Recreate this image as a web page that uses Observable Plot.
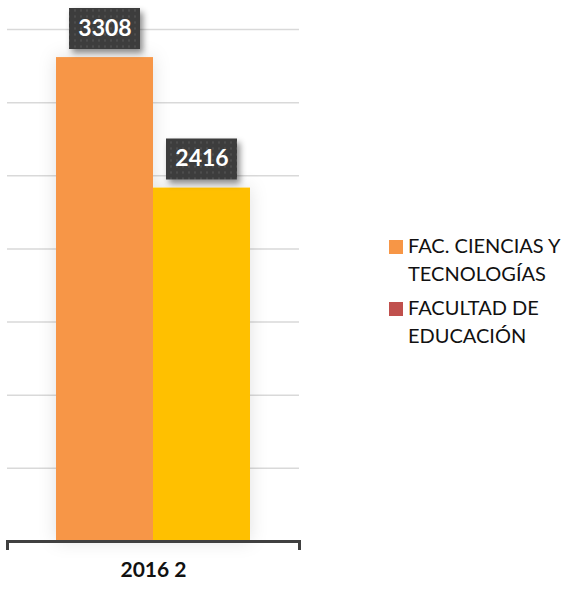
<!DOCTYPE html>
<html>
<head>
<meta charset="utf-8">
<script src="https://cdn.jsdelivr.net/npm/d3@7"></script>
<script src="https://cdn.jsdelivr.net/npm/@observablehq/plot@0.6"></script>
<style>
  body { margin: 0; background: #fff; }
  #wrap { position: relative; width: 576px; height: 591px; font-family: Lato, "Open Sans", sans-serif; }
  #legend { position: absolute; left: 389px; top: 231px; }
  .item { display: flex; align-items: flex-start; margin-bottom: 6px; }
  .sw { width: 14px; height: 14px; margin-top: 9px; margin-right: 5px; flex: none; }
  .lab { font-size: 20px; line-height: 28px; color: #111; width: 175px; }
</style>
</head>
<body>
<div id="wrap"></div>
<script>
const series = ["FAC. CIENCIAS Y TECNOLOGÍAS", "FACULTAD DE EDUCACIÓN"];
const values = [3308, 2416];
const period = "2016 2";
const barColors = ["#F79646", "#FFC000"];
const legendColors = ["#F79646", "#C0504D"];
const yTicks = [500, 1000, 1500, 2000, 2500, 3000, 3500];

const data = series.map((s, i) => ({series: s, value: values[i], period}));

const plot = Plot.plot({
  width: 576,
  height: 591,
  marginLeft: 7,
  marginRight: 277,
  marginTop: 29,
  marginBottom: 50,
  style: {fontFamily: "Lato, 'Open Sans', sans-serif", background: "transparent"},
  fx: {domain: [period], padding: 0, label: null},
  x: {domain: series, paddingInner: 0, paddingOuter: 0.5, axis: null},
  y: {domain: [0, 3500], axis: null},
  color: {domain: series, range: barColors},
  marks: [
    Plot.ruleY(yTicks, {stroke: "#d9d9d9", strokeWidth: 1.5}),
    Plot.barY(data, {fx: "period", x: "series", y: "value", fill: "series"}),
    Plot.ruleY([0], {stroke: "#404040", strokeWidth: 3}),
    Plot.frame({anchor: "left", stroke: "#404040", strokeWidth: 3, insetTop: 512, insetBottom: -7}),
    Plot.frame({anchor: "right", stroke: "#404040", strokeWidth: 3, insetTop: 512, insetBottom: -7}),
    Plot.tickY(data, {fx: "period", x: "series", y: "value", dy: -29, stroke: "#404040", strokeWidth: 41, insetLeft: 13, insetRight: 13}),
    Plot.text(data, {fx: "period", x: "series", y: "value", dy: -29, text: d => String(d.value), fill: "white", fontWeight: "bold", fontSize: 23}),
    Plot.axisFx({anchor: "bottom", tickSize: 0, tickPadding: 21, fontSize: 21, fontWeight: "bold", label: null, color: "#111"})
  ]
});

const svg = d3.select(plot);
const defs = svg.insert("defs", ":first-child");
const glow = defs.append("filter").attr("id", "glow").attr("x", "-30%").attr("y", "-20%").attr("width", "160%").attr("height", "140%");
glow.append("feDropShadow").attr("dx", 0).attr("dy", 0).attr("stdDeviation", 9).attr("flood-color", "#000").attr("flood-opacity", 0.12);
const sh = defs.append("filter").attr("id", "boxshadow").attr("x", "-20%").attr("y", "-20%").attr("width", "150%").attr("height", "160%");
sh.append("feDropShadow").attr("dx", 3).attr("dy", 4).attr("stdDeviation", 3).attr("flood-color", "#000").attr("flood-opacity", 0.45);
const pat = defs.append("pattern").attr("id", "dots").attr("width", 6).attr("height", 6).attr("patternUnits", "userSpaceOnUse");
pat.append("rect").attr("width", 6).attr("height", 6).attr("fill", "#3d3d3d");
pat.append("rect").attr("x", 2).attr("y", 2).attr("width", 2).attr("height", 2).attr("fill", "#4e4e4e");

svg.selectAll('g[aria-label="bar"]').attr("filter", "url(#glow)");
svg.selectAll('g[aria-label="tick"]').attr("filter", "url(#boxshadow)").selectAll("line").attr("stroke", "url(#dots)");

const wrap = document.getElementById("wrap");
wrap.appendChild(plot);

const legend = document.createElement("div");
legend.id = "legend";
series.forEach((s, i) => {
  const item = document.createElement("div");
  item.className = "item";
  const sw = document.createElement("div");
  sw.className = "sw";
  sw.style.background = legendColors[i];
  const lab = document.createElement("div");
  lab.className = "lab";
  lab.textContent = s;
  item.appendChild(sw);
  item.appendChild(lab);
  legend.appendChild(item);
});
wrap.appendChild(legend);
</script>
</body>
</html>
